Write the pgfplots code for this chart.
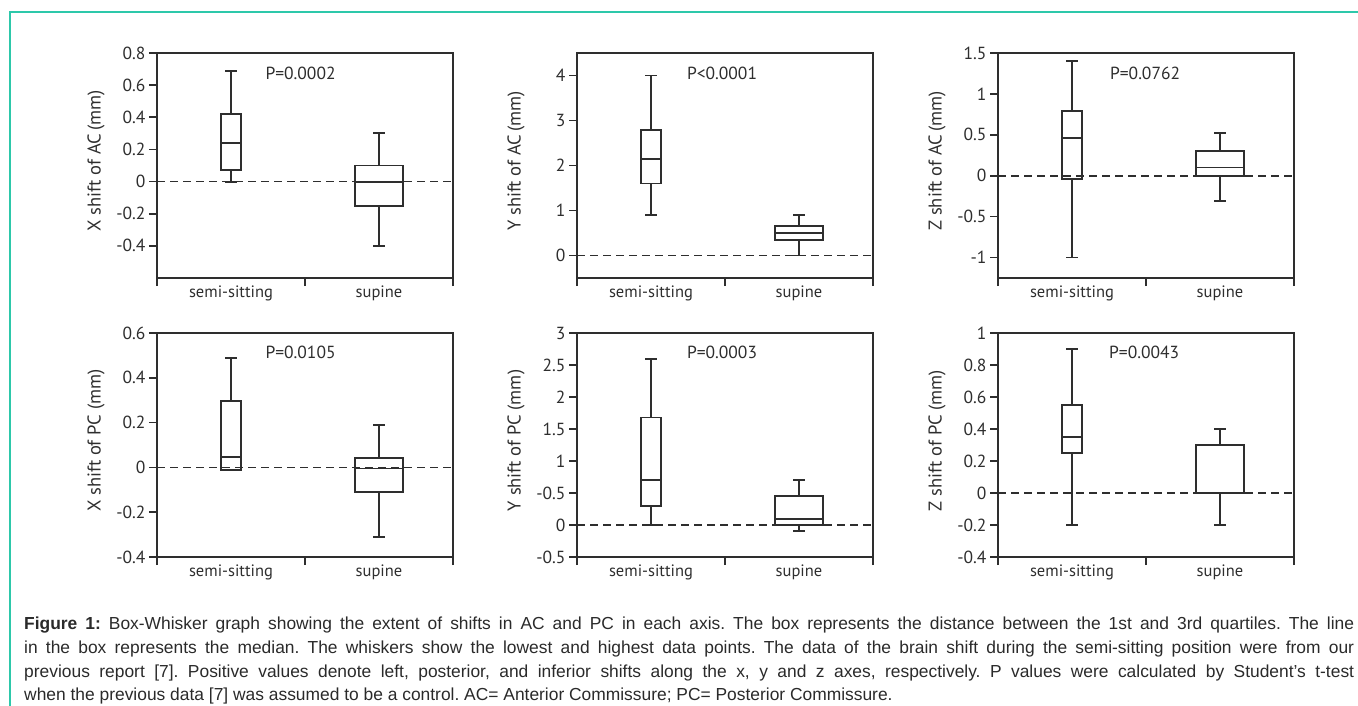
\documentclass[border=0pt]{standalone}
\usepackage{fontspec}
\setmainfont{Liberation Sans}
\newfontfamily\chartfont{PT Sans}
\usepackage{pgfplots}
\pgfplotsset{compat=1.18}
\usepgfplotslibrary{statistics}

\definecolor{ink}{HTML}{2E2E2E}
\definecolor{frameteal}{RGB}{45,200,170}
\definecolor{captext}{HTML}{2A2A2A}

\pgfplotsset{
  shiftpanel/.style={
    scale only axis, width=296pt,
    xmin=0, xmax=2,
    xtick={0,1,2}, xticklabels={},
    extra x ticks={0.5,1.5},
    extra x tick labels={semi-sitting,supine},
    extra x tick style={major tick length=0pt,
      xticklabel style={yshift=-4pt, font=\chartfont\fontsize{16.5}{19}\selectfont}},
    xtick pos=left, ytick pos=left,
    tick align=outside,
    major tick length=8pt,
    axis line style={ink, line width=1.9pt},
    every tick/.style={ink, line width=1.7pt},
    tick label style={font=\chartfont\fontsize{17.5}{20}\selectfont, text=ink},
    every axis y label/.style={at={(rel axis cs:0,0.52)}, xshift=-61pt,
      rotate=90, anchor=center, font=\chartfont\fontsize{18.5}{21}\selectfont, text=ink},
    boxplot/draw direction=y,
    clip=false,
  },
  zero/.style={ink, line width=1.8pt, dash pattern=on 8pt off 5pt},
  bw/.style={ink, line width=1.9pt, solid},
}
\tikzset{pval/.style={font=\chartfont\fontsize{17.5}{20}\selectfont, text=ink}}

\begin{document}
\begin{tikzpicture}
\path[use as bounding box] (0pt,0pt) rectangle (1358pt,-706pt);
\draw[frameteal, line width=2pt] (9.5pt,-706pt) -- (9.5pt,-12.5pt) -- (1358pt,-12.5pt);

% ---- top row: AC ----
\begin{axis}[shiftpanel, height=225pt, at={(157pt,-278pt)}, anchor=south west,
  ymin=-0.6, ymax=0.8, ytick={-0.4,-0.2,0,0.2,0.4,0.6,0.8},
  yticklabels={-0.4,-0.2,0,0.2,0.4,0.6,0.8},
  ylabel={X shift of AC\,(mm)}]
\addplot[zero] coordinates {(0,0) (2,0)};
\addplot[bw, boxplot prepared={draw position=0.5, lower whisker=0, lower quartile=0.07,
  median=0.24, upper quartile=0.42, upper whisker=0.69, box extend=0.135, whisker extend=0.08}] coordinates {};
\addplot[bw, boxplot prepared={draw position=1.5, lower whisker=-0.4, lower quartile=-0.15,
  median=0, upper quartile=0.1, upper whisker=0.3, box extend=0.33, whisker extend=0.08}] coordinates {};
\node[pval] at (rel axis cs:0.485,0.91) {P=0.0002};
\end{axis}

\begin{axis}[shiftpanel, height=225pt, at={(577pt,-278pt)}, anchor=south west,
  ymin=-0.5, ymax=4.5, ytick={0,1,2,3,4},
  yticklabels={0,1,2,3,4},
  ylabel={Y shift of AC\,(mm)}]
\addplot[zero] coordinates {(0,0) (2,0)};
\addplot[bw, boxplot prepared={draw position=0.5, lower whisker=0.9, lower quartile=1.6,
  median=2.15, upper quartile=2.78, upper whisker=4, box extend=0.135, whisker extend=0.08}] coordinates {};
\addplot[bw, boxplot prepared={draw position=1.5, lower whisker=0, lower quartile=0.35,
  median=0.5, upper quartile=0.65, upper whisker=0.9, box extend=0.33, whisker extend=0.08}] coordinates {};
\node[pval] at (rel axis cs:0.49,0.91) {P<0.0001};
\end{axis}

\begin{axis}[shiftpanel, height=225pt, at={(998pt,-278pt)}, anchor=south west,
  ymin=-1.25, ymax=1.5, ytick={-1,-0.5,0,0.5,1,1.5},
  yticklabels={-1,-0.5,0,0.5,1,1.5},
  ylabel={Z shift of AC\,(mm)}]
\addplot[zero] coordinates {(0,0) (2,0)};
\addplot[bw, boxplot prepared={draw position=0.5, lower whisker=-1, lower quartile=-0.04,
  median=0.46, upper quartile=0.79, upper whisker=1.4, box extend=0.135, whisker extend=0.08}] coordinates {};
\addplot[bw, boxplot prepared={draw position=1.5, lower whisker=-0.31, lower quartile=0,
  median=0.1, upper quartile=0.3, upper whisker=0.52, box extend=0.33, whisker extend=0.08}] coordinates {};
\node[pval] at (rel axis cs:0.497,0.91) {P=0.0762};
\end{axis}

% ---- bottom row: PC ----
\begin{axis}[shiftpanel, height=224pt, at={(157pt,-557pt)}, anchor=south west,
  ymin=-0.4, ymax=0.6, ytick={-0.4,-0.2,0,0.2,0.4,0.6},
  yticklabels={-0.4,-0.2,0,0.2,0.4,0.6},
  ylabel={X shift of PC (mm)}]
\addplot[zero] coordinates {(0,0) (2,0)};
\addplot[bw, boxplot prepared={draw position=0.5, lower whisker=-0.01, lower quartile=-0.01,
  median=0.045, upper quartile=0.295, upper whisker=0.49, box extend=0.135, whisker extend=0.08}] coordinates {};
\addplot[bw, boxplot prepared={draw position=1.5, lower whisker=-0.31, lower quartile=-0.11,
  median=-0.005, upper quartile=0.043, upper whisker=0.19, box extend=0.33, whisker extend=0.08}] coordinates {};
\node[pval] at (rel axis cs:0.485,0.914) {P=0.0105};
\end{axis}

\begin{axis}[shiftpanel, height=224pt, at={(577pt,-557pt)}, anchor=south west,
  ymin=-0.5, ymax=3, ytick={-0.5,0,0.5,1,1.5,2,2.5,3},
  yticklabels={-0.5,0,-0.5,1,1.5,2,2.5,3},
  ylabel={Y shift of PC (mm)}]
\addplot[zero] coordinates {(0,0) (2,0)};
\addplot[bw, boxplot prepared={draw position=0.5, lower whisker=0, lower quartile=0.3,
  median=0.7, upper quartile=1.68, upper whisker=2.6, box extend=0.135, whisker extend=0.08}] coordinates {};
\addplot[bw, boxplot prepared={draw position=1.5, lower whisker=-0.1, lower quartile=0,
  median=0.1, upper quartile=0.45, upper whisker=0.7, box extend=0.33, whisker extend=0.08}] coordinates {};
\node[pval] at (rel axis cs:0.49,0.914) {P=0.0003};
\end{axis}

\begin{axis}[shiftpanel, height=224pt, at={(998pt,-557pt)}, anchor=south west,
  ymin=-0.4, ymax=1, ytick={-0.4,-0.2,0,0.2,0.4,0.6,0.8,1},
  yticklabels={-0.4,-0.2,0,0.2,0.4,0.6,0.8,1},
  ylabel={Z shift of PC (mm)}]
\addplot[zero] coordinates {(0,0) (2,0)};
\addplot[bw, boxplot prepared={draw position=0.5, lower whisker=-0.2, lower quartile=0.25,
  median=0.35, upper quartile=0.55, upper whisker=0.9, box extend=0.135, whisker extend=0.08}] coordinates {};
\addplot[bw, boxplot prepared={draw position=1.5, lower whisker=-0.2, lower quartile=0,
  median=0, upper quartile=0.3, upper whisker=0.4, box extend=0.33, whisker extend=0.08}] coordinates {};
\node[pval] at (rel axis cs:0.494,0.914) {P=0.0043};
\end{axis}

% ---- caption ----
\node[anchor=north west, inner sep=0pt, text width=1330pt, align=justify,
  font=\fontsize{17.4}{23.6}\selectfont, text=captext] at (24pt,-617pt)
  {\frenchspacing\tolerance=10000\pretolerance=10000\hyphenpenalty=10000
  \textbf{Figure 1:} Box-Whisker graph showing the extent of shifts in AC and PC in each axis. The box represents the distance between the 1st and 3rd quartiles. The line\linebreak
  in the box represents the median. The whiskers show the lowest and highest data points. The data of the brain shift during the semi-sitting position were from our\linebreak
  previous report [7]. Positive values denote left, posterior, and inferior shifts along the x, y and z axes, respectively. P values were calculated by Student's t-test\linebreak
  when the previous data [7] was assumed to be a control. AC= Anterior Commissure; PC= Posterior Commissure.};
\end{tikzpicture}
\end{document}
